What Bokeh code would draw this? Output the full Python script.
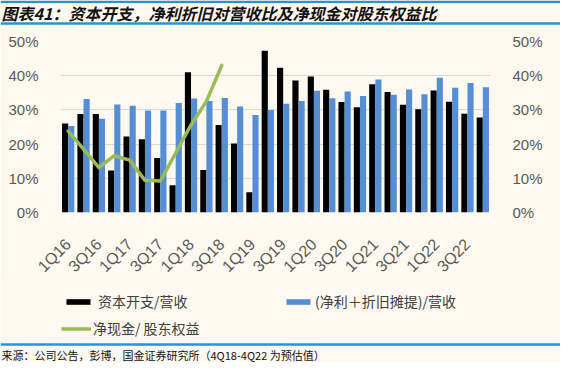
import math
from bokeh.plotting import figure
from bokeh.models import (Range1d, LinearAxis, Legend, LegendItem, Label, Span,
                          FixedTicker, PrintfTickFormatter, ColumnDataSource)
from bokeh.transform import dodge
from bokeh.layouts import column
from bokeh.embed import file_html
from bokeh.resources import INLINE
from bokeh.core.properties import value
from bokeh.core.validation import silence
from bokeh.core.validation.warnings import MISSING_RENDERERS

silence(MISSING_RENDERERS, True)

# ---------------- data ----------------
quarters = ["1Q16", "2Q16", "3Q16", "4Q16", "1Q17", "2Q17", "3Q17", "4Q17",
            "1Q18", "2Q18", "3Q18", "4Q18", "1Q19", "2Q19", "3Q19", "4Q19",
            "1Q20", "2Q20", "3Q20", "4Q20", "1Q21", "2Q21", "3Q21", "4Q21",
            "1Q22", "2Q22", "3Q22", "4Q22"]
tick_labels = ["1Q16", "", "3Q16", "", "1Q17", "", "3Q17", "",
               "1Q18", "", "3Q18", "", "1Q19", "", "3Q19", "",
               "1Q20", "", "3Q20", "", "1Q21", "", "3Q21", "",
               "1Q22", "", "3Q22", ""]
capex_to_revenue = [26.0, 28.8, 28.8, 12.3, 22.2, 21.4, 15.9, 8.0,
                    41.0, 12.4, 25.6, 20.2, 5.9, 47.3, 42.3, 38.6,
                    39.8, 35.9, 32.3, 30.8, 37.5, 35.2, 31.5, 30.2,
                    35.7, 32.4, 28.9, 27.8]
npda_to_revenue = [25.3, 33.2, 27.4, 31.6, 31.2, 29.8, 29.8, 32.0,
                   33.3, 32.6, 33.5, 31.0, 28.5, 30.0, 31.8, 32.6,
                   35.6, 33.4, 35.4, 34.1, 38.9, 34.4, 36.0, 34.6,
                   39.4, 36.5, 37.9, 36.6]
cash_quarters = ["1Q16", "2Q16", "3Q16", "4Q16", "1Q17", "2Q17", "3Q17", "4Q17",
                 "1Q18", "2Q18", "3Q18"]
cash_to_equity = [23.8, 18.5, 13.1, 16.6, 15.3, 9.4, 9.2, 17.4, 25.6, 32.5, 43.0]
y_ticks = [0, 10, 20, 30, 40, 50]

title_text = "图表41：资本开支，净利折旧对营收比及净现金对股东权益比"
source_text = "来源：公司公告，彭博，国金证券研究所（4Q18-4Q22 为预估值）"
legend_labels = ["资本开支/营收", "(净利＋折旧摊提)/营收", "净现金/ 股东权益"]

# ---------------- style ----------------
BG = "#FDF9F0"
RULE = "#2196D3"
BLACK = "#000000"
BLUE = "#558ED5"
GREEN = "#9BBB59"
AXIS_TXT = "#595959"
W = 560
CJK = "Noto Sans CJK SC"
LAT = "Liberation Sans"


def blank_fig(h, flip=True):
    f = figure(width=W, height=h, x_range=Range1d(0, W),
               y_range=Range1d(h, 0) if flip else Range1d(0, h),
               output_backend="svg", toolbar_location=None, min_border=0,
               x_axis_location=None, y_axis_location=None, frame_align=False)
    f.grid.visible = False
    f.outline_line_color = None
    f.background_fill_color = BG
    f.border_fill_color = BG
    return f


# header
header = blank_fig(26)
header.add_layout(Span(location=1.2, dimension="width", line_color=RULE, line_width=2.5))
header.add_layout(Span(location=23, dimension="width", line_color=RULE, line_width=2.5))
header.add_layout(Label(x=1, y=12, text=title_text, text_font=CJK, text_font_size="16px",
                        text_font_style="bold italic", text_baseline="middle", text_color="#111111"))

# main chart
idx = list(range(len(quarters)))
p = figure(width=W, height=258, x_range=Range1d(-0.5, len(quarters) - 0.5), y_range=Range1d(0, 50),
           output_backend="svg", toolbar_location=None, frame_align=False,
           min_border_left=60, min_border_right=70, min_border_top=15, min_border_bottom=70)
p.background_fill_color = BG
p.border_fill_color = BG
p.outline_line_color = None

src = ColumnDataSource(dict(i=idx, q=quarters, capex=capex_to_revenue, npda=npda_to_revenue))
r_black = p.vbar(x=dodge("i", -0.2), top="capex", width=0.4, source=src,
                 fill_color=BLACK, line_color=None)
r_blue = p.vbar(x=dodge("i", 0.2), top="npda", width=0.4, source=src,
                fill_color=BLUE, line_color=None)
cash_x = [quarters.index(q) for q in cash_quarters]
r_green = p.line(x=cash_x, y=cash_to_equity, line_color=GREEN, line_width=3.5,
                 line_join="round", line_cap="round")

p.extra_y_ranges = {"right": Range1d(0, 50)}
p.add_layout(LinearAxis(y_range_name="right"), "right")

for ax in p.yaxis:
    ax.ticker = FixedTicker(ticks=y_ticks)
    ax.formatter = PrintfTickFormatter(format="%d%%")
    ax.major_label_standoff = 16

for ax in p.axis:
    ax.axis_line_color = None
    ax.major_tick_line_color = None
    ax.minor_tick_line_color = None
    ax.major_label_text_font = LAT
    ax.major_label_text_font_size = "15px"
    ax.major_label_text_color = AXIS_TXT

xa = p.xaxis[0]
shown = [i for i, t in zip(idx, tick_labels) if t]
xa.ticker = FixedTicker(ticks=shown)
xa.major_label_overrides = {i: tick_labels[i] for i in shown}
xa.major_label_orientation = math.pi / 4
xa.major_label_standoff = 23
xa.major_label_text_font_size = "16px"

p.xgrid.visible = False
p.ygrid.grid_line_color = "#D9D9D9"
p.ygrid.ticker = FixedTicker(ticks=y_ticks)

# legend panel: proxy glyphs (kept outside the visible area) carry the series styles
lf = blank_fig(56, flip=False)
proxy = ColumnDataSource(dict(x=[-50], y=[-50]))
px_black = lf.vbar(x="x", top="y", width=1, source=proxy, fill_color=BLACK, line_color=None)
px_blue = lf.vbar(x="x", top="y", width=1, source=proxy, fill_color=BLUE, line_color=None)
px_green = lf.line(x="x", y="y", source=proxy, line_color=GREEN, line_width=3.5)


def make_legend(label, rend, loc, standoff, gh):
    lg = Legend(items=[LegendItem(label=value(label), renderers=[rend])], location=loc,
                orientation="horizontal", background_fill_alpha=0, border_line_color=None,
                padding=0, margin=0, spacing=0, glyph_width=30, glyph_height=gh,
                label_standoff=standoff, label_text_font=CJK, label_text_font_size="14px",
                label_text_color="#404040", label_height=7)
    lf.add_layout(lg)


make_legend(legend_labels[0], px_black, (63, 29), 5, 7)
make_legend(legend_labels[1], px_blue, (283, 29), 2, 7)
make_legend(legend_labels[2], px_green, (61, 2), 2, 7)

# footer
footer = blank_fig(22)
footer.add_layout(Span(location=4, dimension="width", line_color=RULE, line_width=2.5))
footer.add_layout(Label(x=1, y=14, text=source_text, text_font=CJK, text_font_size="11px",
                        text_baseline="middle", text_color="#111111"))

layout = column(header, p, lf, footer, spacing=0)
open("out.html", "w").write(file_html(layout, INLINE))
